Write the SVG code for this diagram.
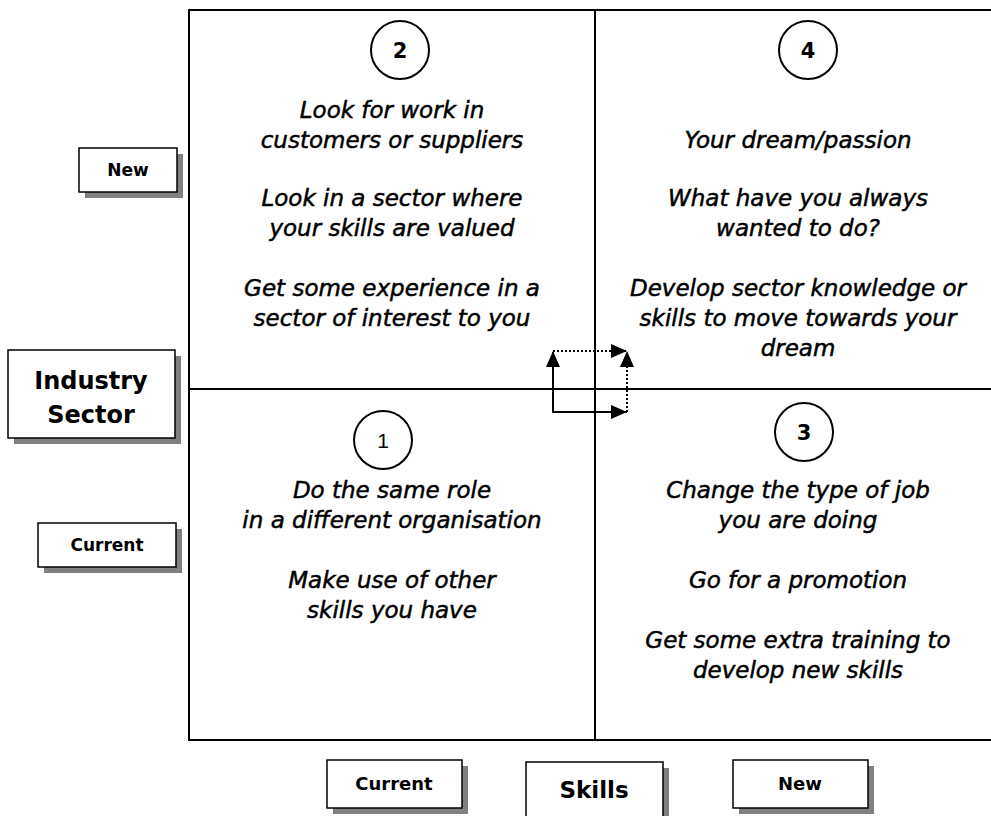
<svg xmlns="http://www.w3.org/2000/svg" width="991" height="816" viewBox="0 0 991 816">
<defs>
<marker id="ah" markerWidth="16" markerHeight="14" refX="15" refY="7" orient="auto" markerUnits="userSpaceOnUse">
<path d="M0,0 L16,7 L0,14 z" fill="#000"/>
</marker>
</defs>
<style>
.q{font-family:"DejaVu Sans","Liberation Sans",sans-serif;font-style:italic;font-size:23px;fill:#000;stroke:#000;stroke-width:0.5px;text-anchor:middle}
.lb{font-family:"DejaVu Sans","Liberation Sans",sans-serif;font-weight:bold;fill:#000;text-anchor:middle}
.box{fill:#fff;stroke:#000;stroke-width:1.5}
.sh{fill:#808080}
.circ{fill:#fff;stroke:#000;stroke-width:2}
.grid{stroke:#000;stroke-width:2;fill:none}
</style>
<rect width="991" height="816" fill="#fff"/>
<g id="grid">
<rect class="grid" x="189" y="10" width="810" height="730"/>
<line class="grid" x1="595" y1="10" x2="595" y2="740"/>
<line class="grid" x1="189" y1="389" x2="991" y2="389"/>
</g>
<g id="q2">
<circle class="circ" cx="400" cy="50" r="29"/>
<text class="lb" x="400" y="58" font-size="21">2</text>
<text class="q" x="392" y="118">Look for work in</text>
<text class="q" x="392" y="148">customers or suppliers</text>
<text class="q" x="392" y="206">Look in a sector where</text>
<text class="q" x="392" y="236">your skills are valued</text>
<text class="q" x="392" y="296">Get some experience in a</text>
<text class="q" x="392" y="326">sector of interest to you</text>
</g>
<g id="q4">
<circle class="circ" cx="808" cy="50" r="29"/>
<text class="lb" x="808" y="58" font-size="21">4</text>
<text class="q" x="798" y="148">Your dream/passion</text>
<text class="q" x="798" y="206">What have you always</text>
<text class="q" x="798" y="236">wanted to do?</text>
<text class="q" x="798" y="296">Develop sector knowledge or</text>
<text class="q" x="798" y="326">skills to move towards your</text>
<text class="q" x="798" y="356">dream</text>
</g>
<g id="q1">
<circle class="circ" cx="383" cy="440" r="29"/>
<text x="383" y="448" font-family="Liberation Sans, Arial, sans-serif" font-size="21" text-anchor="middle">1</text>
<text class="q" x="392" y="498">Do the same role</text>
<text class="q" x="392" y="528">in a different organisation</text>
<text class="q" x="392" y="588">Make use of other</text>
<text class="q" x="392" y="618">skills you have</text>
</g>
<g id="q3">
<circle class="circ" cx="804" cy="432" r="29"/>
<text class="lb" x="804" y="440" font-size="21">3</text>
<text class="q" x="798" y="498">Change the type of job</text>
<text class="q" x="798" y="528">you are doing</text>
<text class="q" x="798" y="588">Go for a promotion</text>
<text class="q" x="798" y="648">Get some extra training to</text>
<text class="q" x="798" y="678">develop new skills</text>
</g>
<g id="connectors" fill="none" stroke="#000" stroke-width="2">
<path d="M627,412 L553,412 L553,352" marker-end="url(#ah)"/>
<path d="M553,412 L626,412" marker-end="url(#ah)"/>
<path d="M553,351 L626,351" stroke-dasharray="2,2" marker-end="url(#ah)"/>
<path d="M627,412 L627,352" stroke-dasharray="2,2" marker-end="url(#ah)"/>
</g>
<g id="label-new-sector">
<rect class="sh" x="85" y="154" width="98" height="44"/>
<rect class="box" x="79" y="148" width="98" height="44"/>
<text class="lb" x="128" y="176" font-size="17">New</text>
</g>
<g id="label-industry-sector">
<rect class="sh" x="14" y="356" width="167" height="88"/>
<rect class="box" x="8" y="350" width="167" height="88"/>
<text class="lb" x="91" y="389" font-size="24">Industry</text>
<text class="lb" x="91" y="423" font-size="24">Sector</text>
</g>
<g id="label-current-sector">
<rect class="sh" x="44" y="529" width="138" height="44"/>
<rect class="box" x="38" y="523" width="138" height="44"/>
<text class="lb" x="107" y="551" font-size="17">Current</text>
</g>
<g id="label-current-skills">
<rect class="sh" x="333" y="766" width="135" height="48"/>
<rect class="box" x="327" y="760" width="135" height="48"/>
<text class="lb" x="394" y="790" font-size="18">Current</text>
</g>
<g id="label-skills">
<rect class="sh" x="532" y="768" width="137" height="60"/>
<rect class="box" x="526" y="762" width="137" height="60"/>
<text class="lb" x="594" y="798" font-size="23">Skills</text>
</g>
<g id="label-new-skills">
<rect class="sh" x="739" y="766" width="135" height="48"/>
<rect class="box" x="733" y="760" width="135" height="48"/>
<text class="lb" x="800" y="790" font-size="18">New</text>
</g>
</svg>
